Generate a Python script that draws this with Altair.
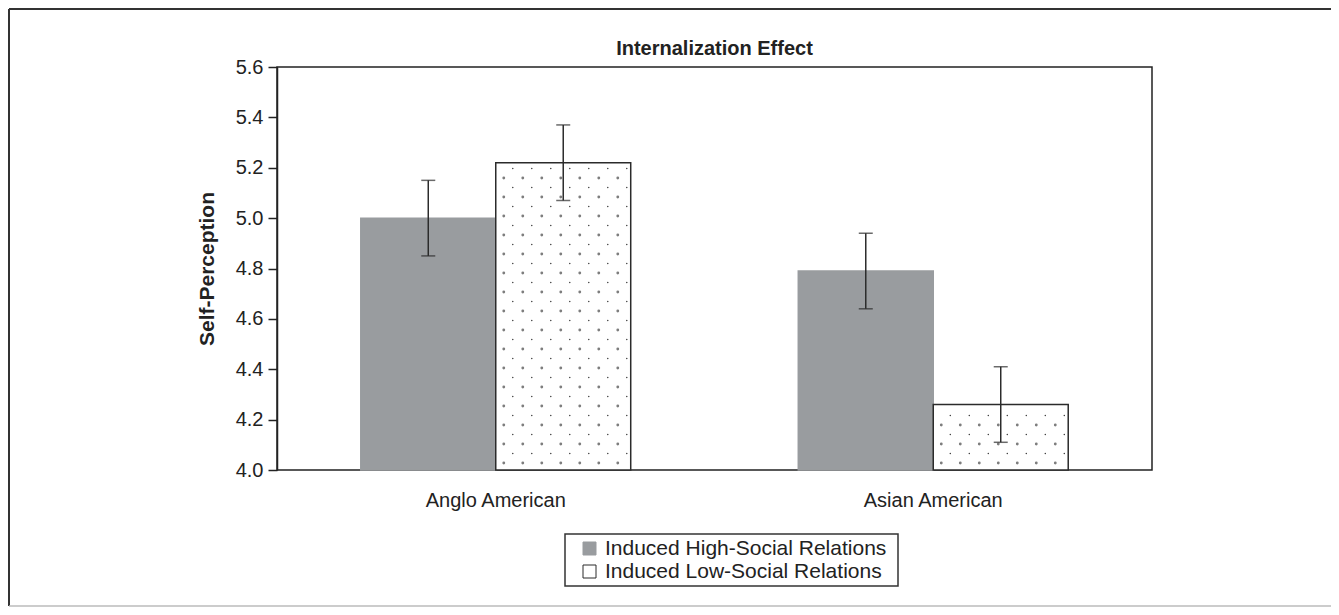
import altair as alt
import pandas as pd

# ---- data ----
groups = ["Anglo American", "Anglo American", "Asian American", "Asian American"]
conditions = ["Induced High-Social Relations", "Induced Low-Social Relations",
              "Induced High-Social Relations", "Induced Low-Social Relations"]
means = [5.00, 5.22, 4.79, 4.26]
errors = [0.15, 0.15, 0.15, 0.15]

group_order = ["Anglo American", "Asian American"]
cond_order = ["Induced High-Social Relations", "Induced Low-Social Relations"]
y_ticks = [4.0, 4.2, 4.4, 4.6, 4.8, 5.0, 5.2, 5.4, 5.6]

df = pd.DataFrame({"group": groups, "condition": conditions, "mean": means, "err": errors})
df["lo"] = df["mean"] - df["err"]
df["hi"] = df["mean"] + df["err"]

# ---- dotted texture for the low-social bars (decoration only) ----
PX = 251.9     # pixels per unit on the y scale
BAND = 270.0   # width of one group band (two bars)
def dot_grid(first_y, first_x, step=19.0):
    rows = []
    for _, r in df[df["condition"] == cond_order[1]].iterrows():
        k = 0
        while True:
            yv = 4.0 + (first_y + step * k) / PX
            if yv > r["mean"] - 4.0 / PX:
                break
            for j in range(7):
                off = BAND / 2 + first_x + step * j
                if off < BAND - 2:
                    rows.append({"group": r["group"], "v": yv, "off": off})
            k += 1
    return pd.DataFrame(rows)

dots_large = dot_grid(7.0, 8.0)
dots_small = dot_grid(16.5, 17.0)

FONT = "Liberation Sans"
DARK = "#222222"
y_scale = alt.Scale(domain=[4.0, 5.6], zero=False, nice=False)
y_axis = alt.Axis(values=y_ticks, format=".1f", grid=False, labelFontSize=20,
                  labelColor=DARK, labelPadding=5, tickSize=9, tickWidth=1.5,
                  tickColor=DARK, domainColor=DARK, domainWidth=1.5,
                  titleFontSize=21, titleFontWeight="bold", titleColor=DARK,
                  titlePadding=18)
YT = "Self-Perception"

x_enc = alt.X("group:N", sort=group_order,
              scale=alt.Scale(domain=group_order, paddingInner=0.383, paddingOuter=0.1915),
              axis=alt.Axis(title=None, labelAngle=0, ticks=False, domain=False,
                            labelFontSize=20, labelColor=DARK, labelPadding=20))
xo_enc = alt.XOffset("condition:N",
                     scale=alt.Scale(domain=cond_order, paddingInner=0, paddingOuter=0))
xo_dots = alt.XOffset("off:Q", scale=alt.Scale(domain=[0, BAND], range=[0, BAND]))

legend = alt.Legend(title=None, orient="none", legendX=302, legendY=471,
                    direction="vertical", labelFontSize=21, labelColor=DARK,
                    symbolType="square", symbolSize=169, symbolStrokeWidth=1,
                    rowPadding=1, labelOffset=5, padding=0, labelLimit=500)

base = alt.Chart(df)

bars = base.mark_bar(strokeWidth=1.5).encode(
    x=x_enc, xOffset=xo_enc,
    y=alt.Y("mean:Q", scale=y_scale, axis=y_axis, title=YT),
    y2=alt.datum(4.0),
    fill=alt.Fill("condition:N", scale=alt.Scale(domain=cond_order, range=["#999c9f", "#ffffff"]),
                  legend=legend),
    stroke=alt.Stroke("condition:N", scale=alt.Scale(domain=cond_order, range=["#999c9f", "#2b2b2b"]),
                      legend=legend),
)

large = alt.Chart(dots_large).mark_circle(size=8, color="#7d7d7d", opacity=1).encode(
    x=x_enc, xOffset=xo_dots, y=alt.Y("v:Q", scale=y_scale, axis=y_axis, title=YT))
small = alt.Chart(dots_small).mark_circle(size=2, color="#333333", opacity=1).encode(
    x=x_enc, xOffset=xo_dots, y=alt.Y("v:Q", scale=y_scale, axis=y_axis, title=YT))

rule = base.mark_rule(strokeWidth=1.5, color="#2b2b2b").encode(
    x=x_enc, xOffset=xo_enc,
    y=alt.Y("lo:Q", scale=y_scale, axis=y_axis, title=YT), y2="hi:Q")
cap_lo = base.mark_tick(size=14, thickness=1.5, color="#2b2b2b").encode(
    x=x_enc, xOffset=xo_enc, y=alt.Y("lo:Q", scale=y_scale, axis=y_axis, title=YT))
cap_hi = base.mark_tick(size=14, thickness=1.5, color="#2b2b2b").encode(
    x=x_enc, xOffset=xo_enc, y=alt.Y("hi:Q", scale=y_scale, axis=y_axis, title=YT))

one = alt.Chart(pd.DataFrame({"a": [0]}))
title_txt = one.mark_text(text="Internalization Effect", fontSize=20, fontWeight="bold",
                          color=DARK, align="center", baseline="alphabetic").encode(
    x=alt.value(437.5), y=alt.value(-12))
frame_top = one.mark_rule(color="#333333", strokeWidth=2).encode(
    x=alt.value(-268), x2=alt.value(1054), y=alt.value(-58))
frame_left = one.mark_rule(color="#333333", strokeWidth=2).encode(
    x=alt.value(-268), y=alt.value(-58), y2=alt.value(539))
frame_bottom = one.mark_rule(color="#bbbbbb", strokeWidth=1.5).encode(
    x=alt.value(-268), x2=alt.value(1054), y=alt.value(539))
legend_box = one.mark_rect(fill="white", stroke="#333333", strokeWidth=1.5).encode(
    x=alt.value(288), x2=alt.value(621), y=alt.value(467), y2=alt.value(519))

chart = alt.layer(
    bars, large, small, rule, cap_lo, cap_hi,
    title_txt, frame_top, frame_left, frame_bottom, legend_box,
).resolve_scale(xOffset="independent").properties(
    width=875, height=403,
    autosize=alt.AutoSizeParams(type="none"),
    padding={"left": 269, "top": 59, "right": 179, "bottom": 137},
).configure(font=FONT).configure_view(stroke=DARK, strokeWidth=1.5)

chart.save("out.html", embed_options={"renderer": "svg", "actions": False})
